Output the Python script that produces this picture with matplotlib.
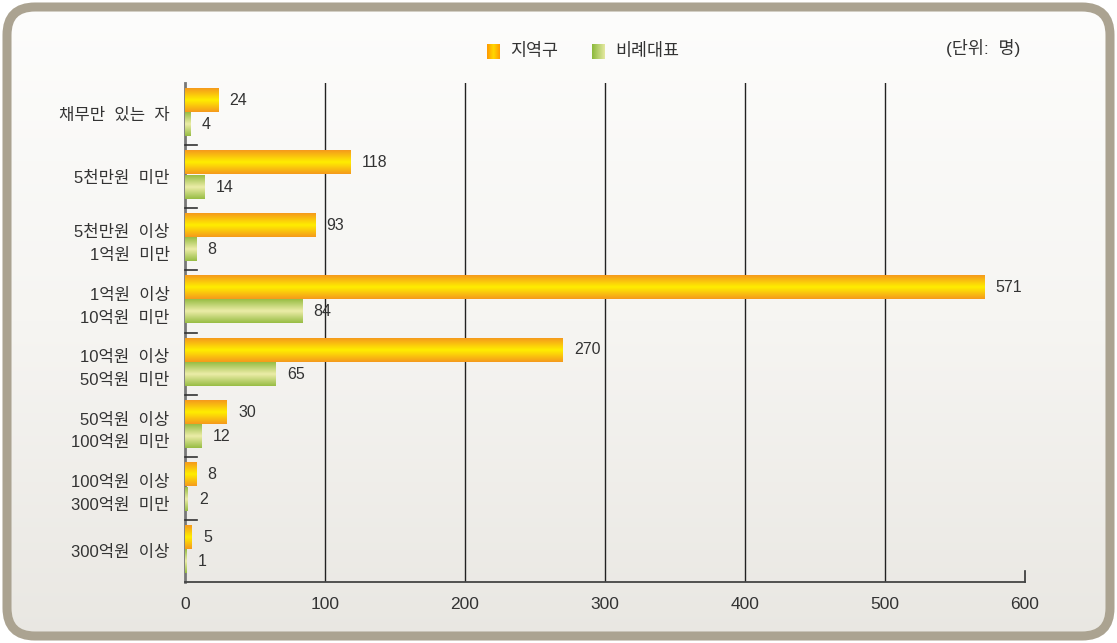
import matplotlib.pyplot as plt
import numpy as np
from matplotlib.patches import FancyBboxPatch
from matplotlib.colors import LinearSegmentedColormap

# latin digits from Liberation Sans, hangul falls back to Noto CJK
plt.rcParams['font.family'] = ['Liberation Sans', 'Noto Sans CJK KR']

# 재산 구간별 인원 (단위: 명)
categories = ['채무만  있는  자', '5천만원  미만', '5천만원  이상\n1억원  미만', '1억원  이상\n10억원  미만',
              '10억원  이상\n50억원  미만', '50억원  이상\n100억원  미만', '100억원  이상\n300억원  미만',
              '300억원  이상']
district = [24, 118, 93, 571, 270, 30, 8, 5]
proportional = [4, 14, 8, 84, 65, 12, 2, 1]
series_names = ['지역구', '비례대표']
xticks = [0, 100, 200, 300, 400, 500, 600]

W, H = 1117, 643
fig = plt.figure(figsize=(W / 100, H / 100), dpi=100)
fig.patch.set_facecolor('white')

# background panel with rounded border
bg = fig.add_axes([0, 0, 1, 1], zorder=0)
bg.set_xlim(0, W)
bg.set_ylim(H, 0)
bg.axis('off')
shade = np.linspace(0, 1, 256).reshape(-1, 1)
bg_cmap = LinearSegmentedColormap.from_list('bg', ['#fdfdfc', '#f6f5f2', '#e9e7e2'])
img = bg.imshow(shade, cmap=bg_cmap, extent=[0, W, H, 0], aspect='auto')
frame = FancyBboxPatch((7, 7), W - 14, H - 14, boxstyle='round,pad=0,rounding_size=28',
                       facecolor='none', edgecolor='#aba391', linewidth=6.5)
bg.add_patch(frame)
img.set_clip_path(frame)

ax = fig.add_axes([185 / W, 1 - 582 / H, 840 / W, 499 / H], zorder=1)
ax.patch.set_alpha(0)

orange_cmap = LinearSegmentedColormap.from_list('or', ['#f59a1c', '#ffee00', '#f59a1c'])
green_cmap = LinearSegmentedColormap.from_list('gr', ['#98bd45', '#eceda8', '#98bd45'])
grad = np.linspace(0, 1, 64).reshape(-1, 1)

n = len(categories)
y = np.arange(n)
h = 0.37
for i in range(n):
    for val, off, cmap in [(district[i], -0.22, orange_cmap), (proportional[i], 0.17, green_cmap)]:
        ax.imshow(grad, cmap=cmap, extent=[0, val, y[i] + off + h / 2, y[i] + off - h / 2],
                  aspect='auto', zorder=3)
        ax.annotate(str(val), (val, y[i] + off), xytext=(8, 0), textcoords='offset points',
                    va='center', ha='left', fontsize=11.5, color='#333333')

ax.set_xlim(0, 600)
ax.set_ylim(n - 0.5, -0.5)

for x in xticks[1:-1]:
    ax.axvline(x, color='#222222', linewidth=1, zorder=2)

# group separators on the left axis
for b in np.arange(n - 1) + 0.5:
    ax.plot([0, 8.5], [b, b], color='#333333', linewidth=1.2, zorder=4, clip_on=False)
ax.plot([600, 600], [n - 0.5, n - 0.5 - 0.17], color='#333333', linewidth=1.2, clip_on=False)

ax.set_yticks(y)
ax.set_yticklabels(categories, fontsize=12, color='#333333', linespacing=1.65)
ax.tick_params(axis='y', length=0, pad=11)
for lab in ax.get_yticklabels():
    lab.set_multialignment('right')
ax.set_xticks(xticks)
ax.set_xticklabels([str(t) for t in xticks], fontsize=12.5, color='#333333')
ax.tick_params(axis='x', length=0, pad=11)

for s in ['top', 'right']:
    ax.spines[s].set_visible(False)
ax.spines['left'].set_color('#777777')
ax.spines['left'].set_linewidth(2)
ax.spines['bottom'].set_color('#444444')
ax.spines['bottom'].set_linewidth(1.3)

# legend swatches
sw = np.linspace(0, 1, 64).reshape(1, -1)
leg_cmaps = [LinearSegmentedColormap.from_list('o2', ['#ff9800', '#ffd800', '#ff9c00']),
             LinearSegmentedColormap.from_list('g2', ['#8cba3c', '#e4e8a0'])]
for (x0, name, cm) in zip([487, 592], series_names, leg_cmaps):
    bg.imshow(sw, cmap=cm, extent=[x0, x0 + 13, 59, 44], aspect='auto', zorder=2)
    bg.text(x0 + 23, 51, name, fontsize=12.5, color='#333333', va='center', ha='left')
bg.set_xlim(0, W)
bg.set_ylim(H, 0)
bg.text(1020, 48, '(단위:  명)', fontsize=12.5, color='#333333', va='center', ha='right')

fig.savefig('out.png', dpi=100)
